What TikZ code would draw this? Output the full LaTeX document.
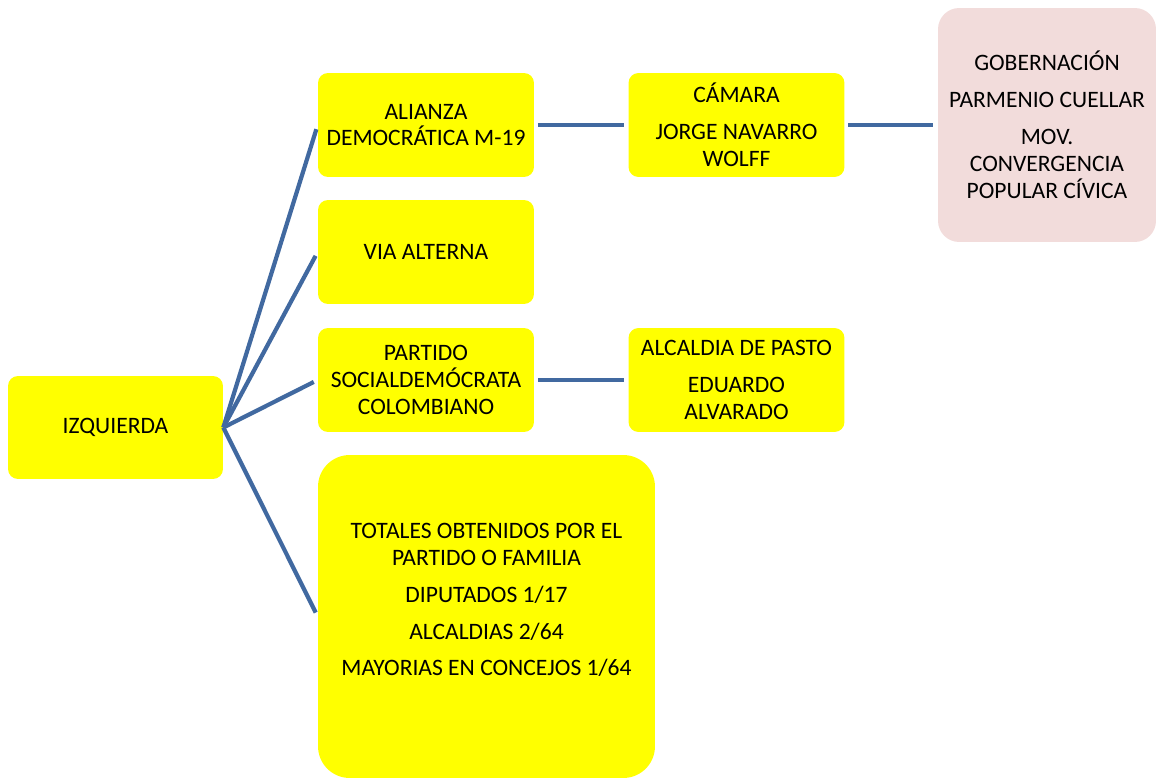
\documentclass[tikz,border=0pt]{standalone}
\usepackage{fontspec}
\setmainfont{Carlito}
\usetikzlibrary{positioning}
\definecolor{boxyellow}{RGB}{255,255,0}
\definecolor{boxpink}{RGB}{242,220,219}
\definecolor{linkblue}{RGB}{65,105,160}

\begin{document}
\begin{tikzpicture}[x=0.02cm, y=-0.02cm,
    box/.style={fill=boxyellow, rounded corners=5.7pt, minimum width=4.32cm, minimum height=2.08cm,
      inner sep=0pt, align=center, font=\fontsize{13.4}{15.3}\selectfont},
    link/.style={draw=linkblue, line width=2.4pt}]
    \useasboundingbox (0,0) rectangle (1159,780);

    % Nodes
    \node[box, minimum width=4.3cm, minimum height=2.06cm] (izq) at (115.5, 427.5) {IZQUIERDA};

    \node[box] (ali) at (426, 125) {ALIANZA\\DEMOCRÁTICA M-19};
    \node[box] (via) at (426, 252) {VIA ALTERNA};
    \node[box] (par) at (426, 380) {PARTIDO\\SOCIALDEMÓCRATA\\COLOMBIANO};
    \node[box, minimum width=6.74cm, minimum height=6.46cm, rounded corners=18pt] (tot) at (486.5, 616.5) {};
    \node[box, minimum width=0pt, minimum height=0pt, fill=none] (tottxt) at (486.5, 600)
        {TOTALES OBTENIDOS POR EL\\PARTIDO O FAMILIA\\[5.7pt]DIPUTADOS 1/17\\[5.7pt]ALCALDIAS 2/64\\[5.7pt]MAYORIAS EN CONCEJOS 1/64};

    \node[box] (cam) at (736.5, 125) {CÁMARA\\[5.7pt]JORGE NAVARRO\\WOLFF};
    \node[box] (alc) at (736.5, 380) {ALCALDIA DE PASTO\\[5.7pt]EDUARDO\\ALVARADO};

    \node[box, fill=boxpink, minimum width=4.36cm, minimum height=4.68cm, rounded corners=12pt] (gob) at (1047, 125)
        {GOBERNACIÓN\\[5.7pt]PARMENIO CUELLAR\\[5.7pt]MOV.\\CONVERGENCIA\\POPULAR CÍVICA};

    % Links
    \foreach \kid in {ali, via, par, tot}
        \draw[link, shorten >=2.5pt] (izq.east) -- (\kid.west);
    \draw[link, shorten <=2pt, shorten >=2.5pt] (ali) -- (cam);
    \draw[link, shorten <=2pt, shorten >=2.5pt] (cam) -- (gob);
    \draw[link, shorten <=2pt, shorten >=2.5pt] (par) -- (alc);
\end{tikzpicture}
\end{document}
